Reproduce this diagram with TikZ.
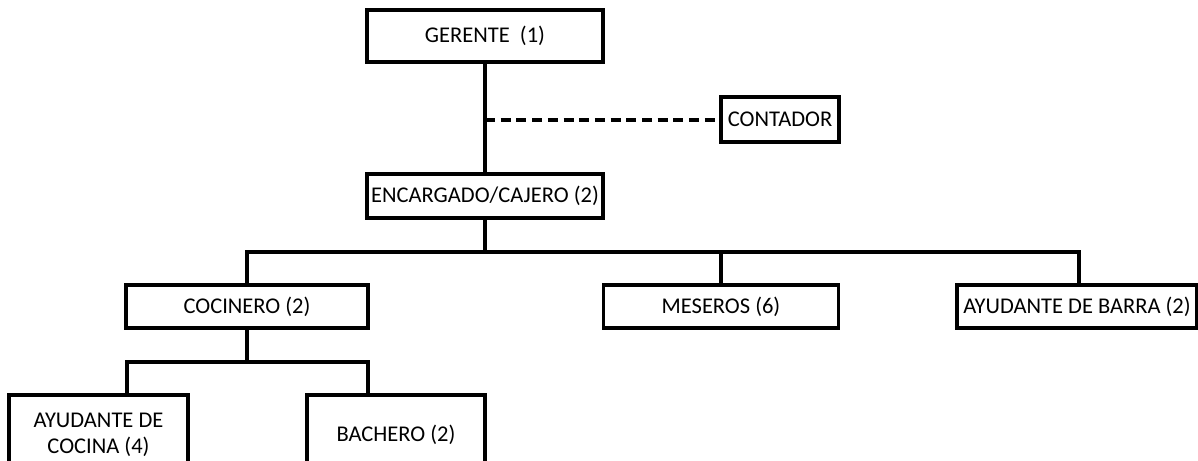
\documentclass[tikz,border=0pt]{standalone}
\usepackage{fontspec}
\setmainfont{Carlito}
\usetikzlibrary{positioning, calc}

\begin{document}
\begin{tikzpicture}[
    x=1pt, y=-1pt,
    line width=3.5pt,
    puesto/.style={
      draw, line width=3.5pt, minimum height=44pt, inner sep=2pt,
      align=center, font=\fontsize{22.5}{27}\selectfont
    },
    dashline/.style={line width=4pt, dash pattern=on 10pt off 5.7pt},
]
    \useasboundingbox (0,0) rectangle (1198,460);

    % Top
    \node[puesto, minimum width=236pt, minimum height=52pt] (gerente) at (485,36) {GERENTE \ (1)};
    \node[puesto, minimum width=118pt, minimum height=45pt] (contador) at (780,119.5) {CONTADOR};
    \node[puesto, minimum width=236pt] (encargado) at (485,196) {ENCARGADO/CAJERO (2)};

    % Middle row
    \node[puesto, minimum width=242pt, minimum height=43pt] (cocinero) at (247,306.5) {COCINERO (2)};
    \node[puesto, minimum width=235pt, minimum height=43pt] (meseros) at (721,306.5) {MESEROS (6)};
    \node[puesto, minimum width=240pt, minimum height=43pt, inner sep=0pt] (barra) at (1077,306.5) {\raisebox{-9pt}{AYUDANTE DE BARRA (2)}};

    % Bottom row
    \node[puesto, minimum width=179pt, minimum height=80pt] (ayco) at (98.5,435) {AYUDANTE DE\\[-1pt]COCINA (4)};
    \node[puesto, minimum width=178pt, minimum height=80pt] (bachero) at (396,435) {\raisebox{4pt}{BACHERO (2)}};

    % Bus points
    \coordinate (busL) at (247,252);
    \coordinate (busR) at (1079,252);
    \coordinate (cbL) at (127,362);
    \coordinate (cbR) at (368,362);

    % Lines
    \draw (gerente.south) -- (encargado.north);
    \draw[dashline] (gerente.south |- contador.west) -- (contador.west);
    \draw (encargado.south) -- (encargado.south |- busL);
    \draw (busL |- cocinero.north) -- (busL) -- (busR) -- (busR |- barra.north);
    \draw (busL -| meseros.north) -- (meseros.north);
    \draw (cocinero.south) -- (cocinero.south |- cbL);
    \draw (cbL |- ayco.north) -- (cbL) -- (cbR) -- (cbR |- bachero.north);
\end{tikzpicture}
\end{document}
